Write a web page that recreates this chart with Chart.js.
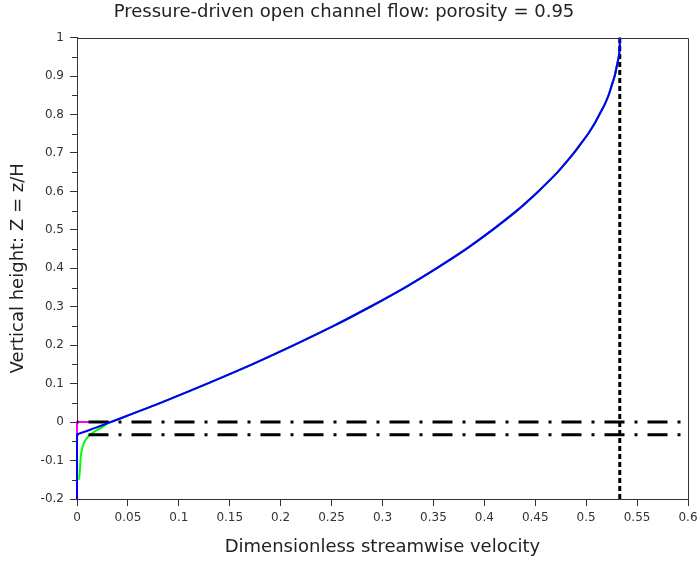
<!DOCTYPE html>
<html>
<head>
<meta charset="utf-8">
<script src="https://cdn.jsdelivr.net/npm/chart.js@4.4.1/dist/chart.umd.min.js"></script>
<style>
  html, body { margin: 0; padding: 0; background: #fff; }
  #wrap { width: 697px; height: 566px; }
</style>
</head>
<body>
<div id="wrap"><canvas id="flowChart" width="697" height="566"></canvas></div>
<script>
// Upper part of the profile (free flow region), shared by all three curves
const zUpper = [0.05, 0.1, 0.15, 0.2, 0.25, 0.3, 0.35, 0.4, 0.45, 0.5, 0.55, 0.6,
                0.65, 0.7, 0.725, 0.75, 0.775, 0.8, 0.825, 0.85, 0.875, 0.9,
                0.925, 0.95, 0.975, 1.0];
const uUpper = [0.082, 0.128, 0.172, 0.213, 0.252, 0.288, 0.322, 0.353, 0.382, 0.408, 0.432, 0.453,
                0.472, 0.488, 0.495, 0.502, 0.508, 0.513, 0.518, 0.522, 0.525, 0.528,
                0.530, 0.532, 0.533, 0.533];

// Lower parts (porous layer)
const zBlueLow = [-0.2, -0.033, -0.03, -0.02, -0.01, 0];
const uBlueLow = [0, 0, 0.002, 0.013, 0.023, 0.033];

const zGreenLow = [-0.15, -0.12, -0.083, -0.053, -0.035, -0.022, -0.013, -0.005, 0];
const uGreenLow = [0.002, 0.003, 0.004, 0.007, 0.012, 0.0186, 0.025, 0.029, 0.033];

const zMagentaLow = [-0.2, 0, 0];
const uMagentaLow = [0, 0, 0.033];

// Reference lines
const interfaceLevels = [0, -0.033];
const surfaceVelocity = 0.533;

const xTicks = { min: 0, max: 0.6, step: 0.05 };
const yTicks = { min: -0.2, max: 1, step: 0.1 };

function toPoints(us, zs) {
  return us.map((u, i) => ({ x: u, y: zs[i] }));
}

function profile(uLow, zLow) {
  return toPoints(uLow.concat(uUpper), zLow.concat(zUpper));
}

function fmt(v) {
  return String(Number(v.toFixed(2)));
}

const AXIS_COLOR = "#333333";
const TEXT_COLOR = "#333333";
const FONT = "'DejaVu Sans', sans-serif";

// minor ticks on the y axis and the box around the plot
const frameAndMinorTicks = {
  id: "frameAndMinorTicks",
  afterDraw(chart) {
    const { ctx, chartArea } = chart;
    const yScale = chart.scales.y;
    ctx.save();
    ctx.strokeStyle = AXIS_COLOR;
    ctx.lineWidth = 1;
    ctx.beginPath();
    for (let v = yTicks.min + yTicks.step / 2; v < yTicks.max; v += yTicks.step) {
      const py = Math.round(yScale.getPixelForValue(v)) + 0.5;
      ctx.moveTo(chartArea.left - 5, py);
      ctx.lineTo(chartArea.left, py);
    }
    ctx.stroke();
    ctx.beginPath();
    ctx.moveTo(Math.round(chartArea.left) + 0.5, Math.round(chartArea.top) + 0.5);
    ctx.lineTo(Math.round(chartArea.right) + 0.5, Math.round(chartArea.top) + 0.5);
    ctx.lineTo(Math.round(chartArea.right) + 0.5, Math.round(chartArea.bottom) + 0.5);
    ctx.stroke();
    ctx.restore();
  }
};

const lineStyle = { pointRadius: 0, pointHoverRadius: 0, fill: false, tension: 0, clip: 6 };
const curveStyle = { ...lineStyle, tension: 0.3, borderWidth: 2 };

new Chart(document.getElementById("flowChart"), {
  type: "line",
  data: {
    datasets: [
      {
        ...curveStyle,
        label: "blue",
        data: profile(uBlueLow, zBlueLow),
        borderColor: "#0000ff"
      },
      {
        ...lineStyle,
        label: "surface velocity",
        data: toPoints([surfaceVelocity, surfaceVelocity], [yTicks.min, yTicks.max]),
        borderColor: "#000000",
        borderWidth: 3,
        borderDash: [5, 3]
      },
      ...interfaceLevels.map(level => ({
        ...lineStyle,
        label: "interface " + level,
        data: toPoints([xTicks.min, xTicks.max], [level, level]),
        borderColor: "#000000",
        borderWidth: 3,
        borderDash: [20, 10, 3, 10],
        borderDashOffset: 31.5
      })),
      {
        ...curveStyle,
        label: "green",
        data: profile(uGreenLow, zGreenLow),
        borderColor: "#00ff00"
      },
      {
        ...curveStyle,
        tension: 0,
        label: "magenta",
        data: profile(uMagentaLow, zMagentaLow),
        borderColor: "#ff00ff"
      }
    ]
  },
  options: {
    responsive: false,
    animation: false,
    events: [],
    layout: { padding: { left: 0, right: 9, top: 0, bottom: 0 } },
    plugins: {
      legend: { display: false },
      tooltip: { enabled: false },
      title: {
        display: true,
        text: "Pressure-driven open channel flow: porosity = 0.95",
        color: "#222222",
        font: { family: FONT, size: 18, weight: "normal" },
        padding: { top: 2, bottom: 14 }
      }
    },
    scales: {
      x: {
        type: "linear",
        min: xTicks.min,
        max: xTicks.max,
        afterFit(scale) {
          scale.height = 67;
          scale.paddingLeft = 0;
          scale.paddingRight = 0;
        },
        border: { display: true, color: AXIS_COLOR, width: 1 },
        grid: { drawOnChartArea: false, drawTicks: true, tickLength: 7, tickColor: AXIS_COLOR },
        ticks: {
          stepSize: xTicks.step,
          autoSkip: false,
          maxRotation: 0,
          padding: 5,
          color: TEXT_COLOR,
          font: { family: FONT, size: 12 },
          callback: v => fmt(v)
        },
        title: {
          display: true,
          text: "Dimensionless streamwise velocity",
          color: "#222222",
          font: { family: FONT, size: 18 },
          padding: { top: 0, bottom: 8 }
        }
      },
      y: {
        type: "linear",
        min: yTicks.min,
        max: yTicks.max,
        afterFit(scale) { scale.width = 77; },
        border: { display: true, color: AXIS_COLOR, width: 1 },
        grid: { drawOnChartArea: false, drawTicks: true, tickLength: 7, tickColor: AXIS_COLOR },
        ticks: {
          stepSize: yTicks.step,
          autoSkip: false,
          padding: 6,
          color: TEXT_COLOR,
          font: { family: FONT, size: 12 },
          callback: v => fmt(v)
        },
        title: {
          display: true,
          text: "Vertical height: Z = z/H",
          color: "#222222",
          font: { family: FONT, size: 18 },
          padding: { top: 8, bottom: 0 }
        }
      }
    }
  },
  plugins: [frameAndMinorTicks]
});
</script>
</body>
</html>
